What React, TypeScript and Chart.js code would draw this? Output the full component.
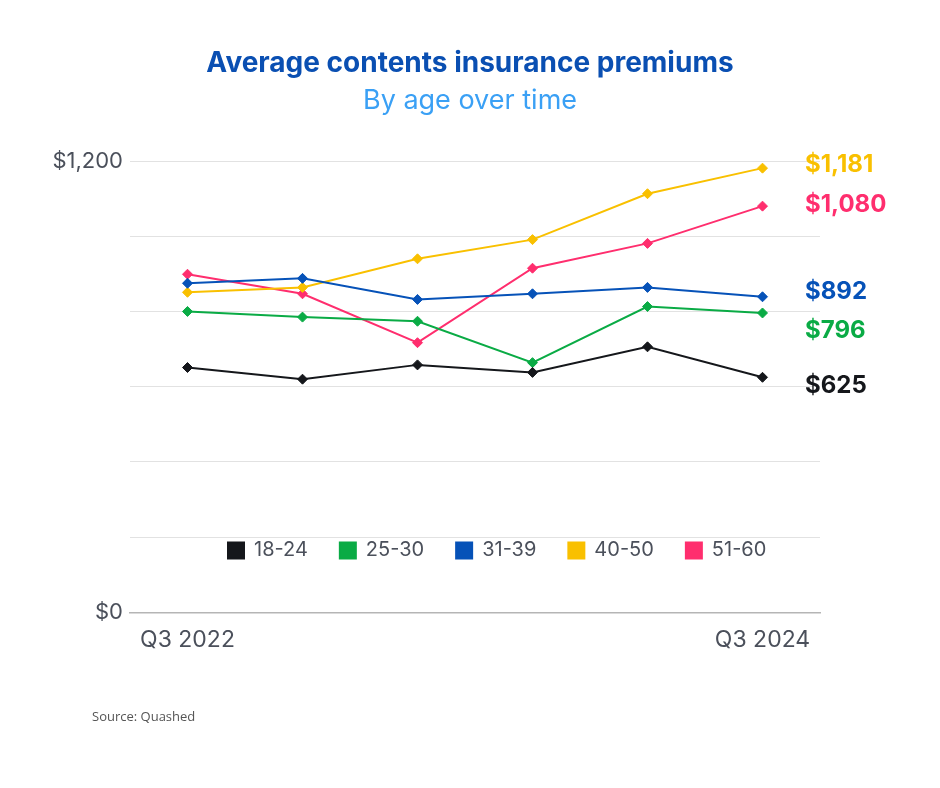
import React, { useEffect, useRef } from 'react';
import { Chart, registerables } from 'chart.js';

Chart.register(...registerables);

// ---- data ----
const categories = ['Q3 2022', '', '', '', '', 'Q3 2024'];
const seriesNames = ['18-24', '25-30', '31-39', '40-50', '51-60'];
const s18to24 = [651, 620, 658, 638, 706, 625];
const s25to30 = [800, 785, 774, 664, 813, 796];
const s31to39 = [875, 888, 832, 847, 864, 839];
const s40to50 = [851, 864, 940, 991, 1113, 1181];
const s51to60 = [899, 847, 717, 915, 981, 1080];
const endLabels = ['$625', '$796', '$892', '$1,181', '$1,080'];
const labelledTicks = [0, 1200];
const titleText = 'Average contents insurance premiums';
const subtitleText = 'By age over time';
const sourceText = 'Source: Quashed';

// ---- styles ----
const colors = ['#15171b', '#0aab45', '#0652b8', '#f9c000', '#ff2e6e'];
const endLabelOffsets = [8, 18, -5, -3, -1];
const FONT = 'Inter, "DejaVu Sans", sans-serif';
const GREY = '#4b505b';

const seriesData = [s18to24, s25to30, s31to39, s40to50, s51to60];

const customPlugin = {
  id: 'customBits',
  afterLayout(chart: any) {
    const lg = chart.legend;
    if (!lg) return;
    const pad = lg.options.labels.padding;
    const itemH = 20;
    const area = chart.chartArea;
    const mid = area.bottom - 62;
    lg.top = mid - pad - itemH / 2;
    lg.bottom = lg.top + lg.height;
    lg.left = area.left + 98 - pad;
  },
  afterDraw(chart: any) {
    const ctx = chart.ctx;
    const area = chart.chartArea;
    ctx.save();
    ctx.font = `bold 24px ${FONT}`;
    ctx.textAlign = 'left';
    ctx.textBaseline = 'middle';
    chart.data.datasets.forEach((ds: any, i: number) => {
      const meta = chart.getDatasetMeta(i);
      const pt = meta.data[meta.data.length - 1];
      if (!pt) return;
      ctx.fillStyle = colors[i];
      ctx.fillText(endLabels[i], area.right - 15, pt.y + endLabelOffsets[i]);
    });
    ctx.font = `13px "Open Sans", sans-serif`;
    ctx.fillStyle = '#555555';
    ctx.textBaseline = 'middle';
    ctx.fillText(sourceText, 92, 717);
    ctx.restore();
  },
};

export default function App() {
  const ref = useRef<HTMLCanvasElement | null>(null);
  useEffect(() => {
    if (!ref.current) return;
    Chart.defaults.font.family = FONT;
    const chart = new Chart(ref.current, {
      type: 'line',
      data: {
        labels: categories,
        datasets: seriesNames.map((name, i) => ({
          label: name,
          data: seriesData[i],
          borderColor: colors[i],
          backgroundColor: colors[i],
          borderWidth: 2,
          pointStyle: 'rectRot',
          pointRadius: 5,
          pointBorderWidth: 1,
          pointBackgroundColor: colors[i],
          pointBorderColor: colors[i],
          tension: 0,
          fill: false,
          yAxisID: 'y',
        })),
      },
      options: {
        responsive: false,
        animation: false,
        layout: { padding: { left: 0, right: 0, top: 41, bottom: 58 } },
        plugins: {
          title: {
            display: true,
            text: titleText,
            color: '#0a4fb2',
            font: { size: 28, weight: 'bold', family: FONT },
            padding: { top: 6, bottom: 4 },
          },
          subtitle: {
            display: true,
            text: subtitleText,
            color: '#3aa0f5',
            font: { size: 27, weight: 'normal', family: FONT },
            padding: { top: 0, bottom: 44 },
          },
          legend: {
            display: true,
            position: 'bottom',
            align: 'start',
            labels: {
              boxWidth: 16,
              boxHeight: 16,
              padding: 32,
              color: GREY,
              font: { size: 20, family: FONT },
            },
          },
          tooltip: { enabled: false },
        },
        scales: {
          x: {
            offset: true,
            grid: { display: false, drawTicks: false },
            border: { display: true, color: '#b5b5b5', width: 1.5 },
            ticks: {
              autoSkip: false,
              maxRotation: 0,
              padding: 14,
              color: GREY,
              font: { size: 23, family: FONT },
            },
          },
          y: {
            min: 0,
            max: 1200,
            afterFit(scale: any) {
              scale.width = 130;
            },
            grid: { color: '#e2e2e2', drawTicks: false, lineWidth: 1 },
            border: { display: false },
            ticks: {
              stepSize: 200,
              padding: 7,
              color: GREY,
              font: { size: 22, family: FONT },
              callback: (v: any) =>
                labelledTicks.includes(Number(v)) ? '$' + Number(v).toLocaleString('en-US') : '',
            },
          },
          yRight: {
            position: 'right',
            min: 0,
            max: 1200,
            afterFit(scale: any) {
              scale.width = 120;
            },
            grid: { display: false, drawTicks: false },
            border: { display: false },
            ticks: { display: false },
          },
        },
      },
      plugins: [customPlugin],
    } as any);
    return () => chart.destroy();
  }, []);

  return (
    <div style={{ position: 'absolute', left: 0, top: 0, width: 940, height: 788, background: '#fff' }}>
      <canvas ref={ref} width={940} height={788} />
    </div>
  );
}
